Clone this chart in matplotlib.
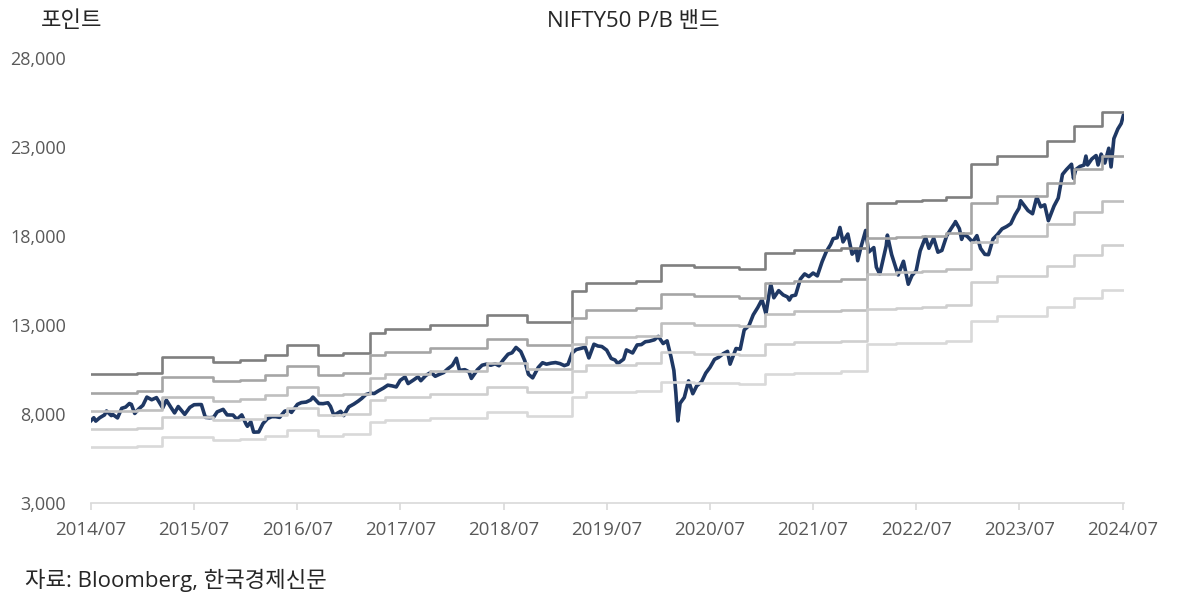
import matplotlib
matplotlib.use('Agg')
import matplotlib.pyplot as plt
import matplotlib.dates as mdates
from matplotlib.ticker import FuncFormatter
import pandas as pd

plt.rcParams['font.family'] = ['Open Sans', 'Noto Sans CJK KR', 'DejaVu Sans']

# NIFTY50 index level (points)
price_dates = [
    '2014-07-15', '2014-07-25', '2014-08-01', '2014-08-15', '2014-09-01', '2014-09-08', '2014-09-25',
    '2014-10-01', '2014-10-17', '2014-11-01', '2014-11-15', '2014-11-28', '2014-12-05', '2014-12-17',
    '2014-12-31',
    '2015-01-15', '2015-01-29', '2015-02-15', '2015-03-04', '2015-03-15', '2015-03-26', '2015-04-08',
    '2015-04-23', '2015-05-07', '2015-05-20', '2015-06-12', '2015-06-30', '2015-07-15', '2015-07-31',
    '2015-08-10', '2015-08-24', '2015-09-08', '2015-09-22', '2015-10-05', '2015-10-26', '2015-11-09',
    '2015-11-30', '2015-12-14', '2015-12-31',
    '2016-01-15', '2016-01-20', '2016-02-01', '2016-02-11', '2016-02-29', '2016-03-15', '2016-03-31',
    '2016-04-15', '2016-04-29', '2016-05-13', '2016-05-31', '2016-06-15', '2016-06-24', '2016-07-15',
    '2016-07-29', '2016-08-15', '2016-08-31', '2016-09-08', '2016-09-29', '2016-10-14', '2016-10-31',
    '2016-11-09', '2016-11-21', '2016-12-15', '2016-12-26',
    '2017-01-13', '2017-01-31', '2017-02-15', '2017-02-28', '2017-03-14', '2017-03-31', '2017-04-13',
    '2017-04-28', '2017-05-15', '2017-05-31', '2017-06-15', '2017-06-30', '2017-07-14', '2017-07-31',
    '2017-08-11', '2017-08-31', '2017-09-15', '2017-09-25', '2017-10-13', '2017-10-31', '2017-11-15',
    '2017-11-30', '2017-12-15', '2017-12-29',
    '2018-01-15', '2018-01-29', '2018-02-09', '2018-02-28', '2018-03-15', '2018-03-23', '2018-04-13',
    '2018-04-30', '2018-05-15', '2018-05-31', '2018-06-15', '2018-06-29', '2018-07-13', '2018-07-31',
    '2018-08-14', '2018-08-28', '2018-09-14', '2018-09-28', '2018-10-11', '2018-10-26', '2018-11-15',
    '2018-11-30', '2018-12-14', '2018-12-31',
    '2019-01-15', '2019-01-31', '2019-02-15', '2019-02-28', '2019-03-15', '2019-03-29', '2019-04-15',
    '2019-04-30', '2019-05-13', '2019-05-31', '2019-06-14', '2019-06-28', '2019-07-15', '2019-07-31',
    '2019-08-14', '2019-08-23', '2019-09-13', '2019-09-23', '2019-10-15', '2019-10-31', '2019-11-15',
    '2019-11-29', '2019-12-13', '2019-12-31',
    '2020-01-14', '2020-01-31', '2020-02-14', '2020-02-28', '2020-03-09', '2020-03-16', '2020-03-23',
    '2020-03-31', '2020-04-15', '2020-04-30', '2020-05-15', '2020-05-29', '2020-06-15', '2020-06-30',
    '2020-07-15', '2020-07-31', '2020-08-14', '2020-08-31', '2020-09-15', '2020-09-24', '2020-10-15',
    '2020-10-30', '2020-11-13', '2020-11-30', '2020-12-15', '2020-12-31',
    '2021-01-15', '2021-01-29', '2021-02-15', '2021-02-26', '2021-03-15', '2021-03-31', '2021-04-15',
    '2021-04-22', '2021-04-30', '2021-05-14', '2021-05-31', '2021-06-15', '2021-06-30', '2021-07-15',
    '2021-07-30', '2021-08-16', '2021-08-31', '2021-09-15', '2021-09-24', '2021-10-08', '2021-10-18',
    '2021-10-29', '2021-11-15', '2021-11-30', '2021-12-15', '2021-12-20', '2021-12-31',
    '2022-01-17', '2022-01-28', '2022-02-15', '2022-02-24', '2022-03-08', '2022-03-31', '2022-04-04',
    '2022-04-19', '2022-05-12', '2022-05-31', '2022-06-17', '2022-06-30', '2022-07-15', '2022-07-29',
    '2022-08-17', '2022-08-29', '2022-09-15', '2022-09-30', '2022-10-14', '2022-10-31', '2022-11-15',
    '2022-11-30', '2022-12-01', '2022-12-15', '2022-12-23', '2022-12-30',
    '2023-01-13', '2023-01-31', '2023-02-15', '2023-02-28', '2023-03-15', '2023-03-28', '2023-04-13',
    '2023-04-28', '2023-05-15', '2023-05-31', '2023-06-15', '2023-06-30', '2023-07-14', '2023-07-20',
    '2023-07-31', '2023-08-15', '2023-08-31', '2023-09-15', '2023-09-29', '2023-10-13', '2023-10-26',
    '2023-11-15', '2023-11-30', '2023-12-15', '2023-12-29',
    '2024-01-16', '2024-01-23', '2024-01-31', '2024-02-15', '2024-02-29', '2024-03-07', '2024-03-13',
    '2024-03-28', '2024-04-12', '2024-04-19', '2024-04-30', '2024-05-13', '2024-05-27', '2024-06-04',
    '2024-06-14', '2024-06-28', '2024-07-10', '2024-07-18', '2024-07-26',
]
price_values = [
    7625, 7790, 7600, 7790, 7950, 8170, 7910,
    7965, 7780, 8320, 8390, 8590, 8540, 8030,
    8280,
    8490, 8950, 8800, 8920, 8630, 8340, 8780,
    8400, 8060, 8420, 7980, 8370, 8520, 8530,
    8530, 7810, 7790, 7810, 8120, 8260, 7950,
    7940, 7700, 7950,
    7440, 7310, 7560, 6980, 6990, 7460, 7740,
    7850, 7850, 7810, 8160, 8200, 8090, 8540,
    8640, 8670, 8790, 8950, 8590, 8580, 8630,
    8430, 7930, 8150, 7910,
    8400, 8560, 8720, 8880, 9090, 9170, 9150,
    9300, 9450, 9620, 9580, 9520, 9890, 10080,
    9710, 9920, 10090, 9870, 10170, 10340, 10120,
    10230, 10330, 10530,
    10740, 11130, 10450, 10490, 10360, 10000, 10480,
    10740, 10800, 10740, 10820, 10710, 11020, 11360,
    11440, 11740, 11510, 11000, 10230, 10030, 10620,
    10880, 10800, 10860,
    10890, 10830, 10720, 10790, 11430, 11620, 11690,
    11750, 11150, 11920, 11820, 11790, 11590, 11120,
    11030, 10830, 11080, 11600, 11430, 11880, 11900,
    12060, 12090, 12170,
    12360, 11960, 12110, 11200, 10450, 9200, 7610,
    8600, 8930, 9860, 9140, 9580, 9810, 10300,
    10620, 11070, 11180, 11390, 11520, 10800, 11680,
    11640, 12720, 12970, 13570, 13980,
    14430, 13630, 15310, 14530, 14930, 14690, 14580,
    14400, 14630, 14680, 15580, 15870, 15720, 15920,
    15760, 16560, 17130, 17520, 17850, 17900, 18480,
    17670, 18110, 16980, 17220, 16610, 17350,
    18310, 17100, 17350, 16250, 15860, 17460, 18050,
    16960, 15810, 16580, 15290, 15780, 16050, 17160,
    17940, 17310, 17880, 17090, 17190, 18010, 18400,
    18760, 18810, 18410, 17810, 18110,
    17960, 17660, 18020, 17300, 16970, 16950, 17830,
    18070, 18400, 18530, 18690, 19190, 19560, 19980,
    19750, 19430, 19250, 20190, 19640, 19750, 18860,
    19680, 20130, 21460, 21730,
    22030, 21240, 21730, 21910, 21980, 22490, 21990,
    22330, 22520, 21990, 22600, 22100, 22930, 21880,
    23470, 24010, 24320, 24800, 24830,
]

# Book value per share (step changes) and P/B multiples of the bands
bv_dates = [
    '2014-07-15', '2014-12-24', '2015-03-22', '2015-09-19', '2015-12-23', '2016-03-21', '2016-06-07',
    '2016-09-25', '2016-12-22', '2017-03-28', '2017-05-21', '2017-10-27', '2018-05-16', '2018-10-05',
    '2019-03-15', '2019-05-04', '2019-10-28', '2020-01-25', '2020-05-21', '2020-10-27', '2021-01-24',
    '2021-05-09', '2021-10-22', '2022-01-23', '2022-05-05', '2022-08-04', '2022-10-29', '2023-01-25',
    '2023-04-27', '2023-10-20', '2024-01-24', '2024-05-02', '2024-07-26',
]
bv_values = [
    2044, 2061, 2240, 2184, 2207, 2263, 2375,
    2263, 2285, 2510, 2555, 2600, 2712, 2634,
    2980, 3076, 3100, 3274, 3252, 3229, 3409,
    3443, 3465, 3971, 3993, 4004, 4038, 4409,
    4500, 4667, 4836, 4993, 4993,
]
multiples = [5.0, 4.5, 4.0, 3.5, 3.0]
band_colors = ['#7f7f7f', '#a5a5a5', '#bfbfbf', '#cfcfcf', '#d9d9d9']

px = pd.to_datetime(price_dates)
bx = pd.to_datetime(bv_dates)

fig = plt.figure(figsize=(12, 6.08), dpi=100)
ax = fig.add_axes([0.0758, 0.1727, 0.8609, 0.7319])

ax.plot(px, price_values, color='#1f3864', lw=2.6, zorder=2)
for m, c in zip(multiples, band_colors):
    ax.step(bx, [m * v for v in bv_values], where='post', color=c, lw=1.9, zorder=3)

start = pd.Timestamp('2014-07-15')
ticks = [start + pd.DateOffset(years=k) for k in range(11)]
ax.set_xlim(start, pd.Timestamp('2024-07-20'))
ax.set_xticks(ticks)
ax.xaxis.set_major_formatter(mdates.DateFormatter('%Y/%m'))
ax.set_ylim(3000, 28000)
ax.set_yticks(range(3000, 28001, 5000))
ax.yaxis.set_major_formatter(FuncFormatter(lambda v, p: f'{int(v):,}'))

for s in ['top', 'right', 'left']:
    ax.spines[s].set_visible(False)
ax.spines['bottom'].set_color('#d9d9d9')
ax.spines['bottom'].set_linewidth(1.2)
ax.tick_params(axis='x', colors='#d9d9d9', length=5, width=1.2, pad=8, labelsize=13.5,
               labelcolor='#595959')
ax.tick_params(axis='y', length=0, pad=18, labelsize=13, labelcolor='#595959')

fig.text(0.06, 0.965, '포인트', ha='center', va='center', fontsize=16, color='#262626')
fig.text(0.528, 0.965, 'NIFTY50 P/B 밴드', ha='center', va='center', fontsize=16, color='#262626')
fig.text(0.021, 0.046, '자료: Bloomberg, 한국경제신문', ha='left', va='center', fontsize=16,
         color='#262626')

fig.savefig('out.png', dpi=100)
